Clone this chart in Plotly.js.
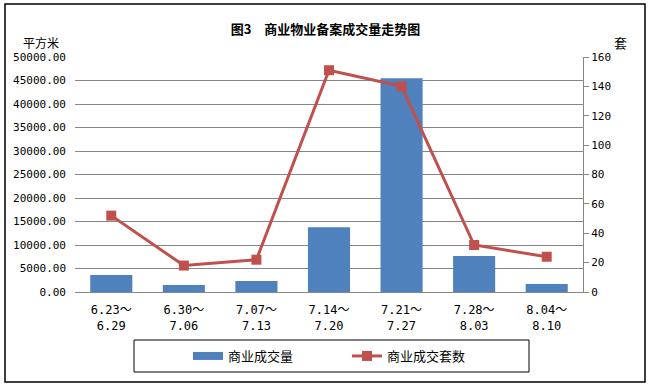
<!DOCTYPE html>
<html>
<head>
<meta charset="utf-8">
<script src="https://cdn.plot.ly/plotly-3.0.1.min.js"></script>
<style>html,body{margin:0;padding:0;background:#fff;}#chart{width:651px;height:387px;}</style>
</head>
<body>
<div id="chart"></div>
<script>
var categories = ["6.23～<br>6.29", "6.30～<br>7.06", "7.07～<br>7.13", "7.14～<br>7.20", "7.21～<br>7.27", "7.28～<br>8.03", "8.04～<br>8.10"];
var areaValues = [3600, 1500, 2350, 13800, 45500, 7650, 1700];
var unitValues = [52, 18, 22, 151, 140, 32, 24];
var seriesNames = ["商业成交量", "商业成交套数"];
var leftTicks = [0, 5000, 10000, 15000, 20000, 25000, 30000, 35000, 40000, 45000, 50000];
var rightTicks = [0, 20, 40, 60, 80, 100, 120, 140, 160];

var monoFont = "DejaVu Sans Mono, Noto Sans CJK SC, monospace";
var cjkFont = "Noto Sans CJK SC, sans-serif";
var barColor = "#4F81BD", lineColor = "#C0504D";

var traces = [
  {
    type: "bar", name: seriesNames[0], x: categories, y: areaValues,
    marker: {color: barColor}, yaxis: "y", showlegend: false
  },
  {
    // legend-only entry to get the wide bar swatch
    type: "scatter", mode: "lines", name: seriesNames[0], x: [null], y: [null],
    line: {color: barColor, width: 8}, yaxis: "y", showlegend: true
  },
  {
    type: "scatter", mode: "lines+markers", name: seriesNames[1], x: categories, y: unitValues,
    line: {color: lineColor, width: 3}, marker: {symbol: "square", size: 10, color: lineColor},
    yaxis: "y2"
  }
];

var pxW = 651 - 75 - 68, pxH = 387 - 57 - 95;
function px(xp) { return (xp - 75) / pxW; }
function py(yp) { return (292 - yp) / pxH; }

var layout = {
  width: 651, height: 387,
  margin: {l: 75, r: 68, t: 57, b: 95},
  paper_bgcolor: "#fff", plot_bgcolor: "#fff",
  showlegend: true,
  title: {text: "<b>图3　商业物业备案成交量走势图</b>", font: {family: cjkFont, size: 13, color: "#000"},
          x: 0.5, xref: "container", y: 1 - 29 / 387, yref: "container", yanchor: "middle"},
  bargap: 0.42,
  xaxis: {
    tickfont: {family: monoFont, size: 12, color: "#000"}, ticklabelstandoff: 7,
    showline: true, linecolor: "#868686", linewidth: 1, ticks: "", showgrid: false
  },
  yaxis: {
    range: [0, 50000], tickvals: leftTicks, tickformat: ".2f", showgrid: true, gridcolor: "#868686", gridwidth: 1,
    zeroline: false, showline: false, ticks: "", ticklabelstandoff: 8,
    tickfont: {family: monoFont, size: 11, color: "#000"}
  },
  yaxis2: {
    range: [0, 160], tickvals: rightTicks, overlaying: "y", side: "right", showgrid: false, zeroline: false,
    showline: true, linecolor: "#868686", linewidth: 1, ticks: "outside", ticklen: 5, tickcolor: "#868686",
    tickfont: {family: monoFont, size: 11, color: "#000"}
  },
  legend: {
    orientation: "h", x: px(188), xanchor: "left", y: py(356), yanchor: "middle",
    entrywidth: 114, entrywidthmode: "pixels",
    font: {family: cjkFont, size: 13, color: "#000"}, bgcolor: "rgba(0,0,0,0)", borderwidth: 0
  },
  annotations: [
    {text: "平方米", xref: "paper", yref: "paper", x: px(41), y: py(42), showarrow: false,
     font: {family: cjkFont, size: 12, color: "#000"}, xanchor: "center", yanchor: "middle"},
    {text: "套", xref: "paper", yref: "paper", x: px(620), y: py(43), showarrow: false,
     font: {family: cjkFont, size: 13, color: "#000"}, xanchor: "center", yanchor: "middle"}
  ],
  shapes: [
    {type: "rect", xref: "paper", yref: "paper", x0: px(5), x1: px(645), y0: py(382), y1: py(4),
     line: {color: "#000", width: 1.5}, fillcolor: "rgba(0,0,0,0)", layer: "below"},
    {type: "rect", xref: "paper", yref: "paper", x0: px(134), x1: px(529), y0: py(372), y1: py(340),
     line: {color: "#000", width: 1}, fillcolor: "rgba(0,0,0,0)", layer: "below"}
  ]
};

Plotly.newPlot("chart", traces, layout, {displayModeBar: false, staticPlot: true});
</script>
</body>
</html>
